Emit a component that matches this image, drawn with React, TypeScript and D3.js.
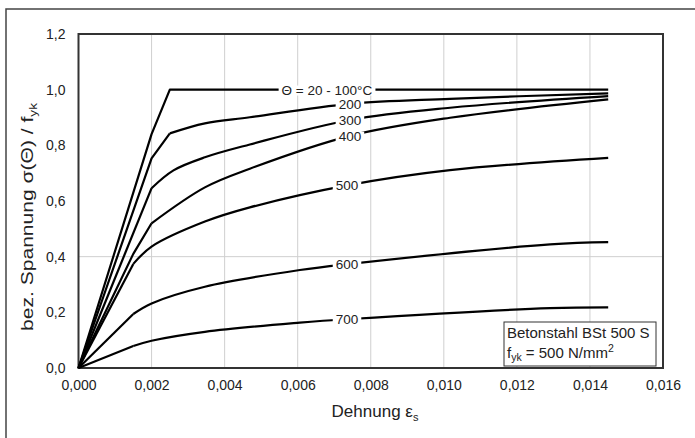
import * as d3 from "d3";
import React, { useEffect, useRef } from "react";

// Dehnung (strain) / bez. Spannung sigma(theta)/fyk
const curve100 = [[0, 0], [0.002, 0.84], [0.0025, 1.0], [0.0145, 1.0]];
const curve200 = [[0, 0], [0.002, 0.753], [0.0025, 0.843], [0.00346, 0.879], [0.00469, 0.901], [0.00743, 0.949], [0.01017, 0.967], [0.0145, 0.987]];
const curve300 = [[0, 0], [0.002, 0.646], [0.0026, 0.71], [0.00346, 0.757], [0.00469, 0.803], [0.00743, 0.891], [0.01017, 0.935], [0.0145, 0.977]];
const curve400 = [[0, 0], [0.0015, 0.41], [0.002, 0.52], [0.00346, 0.649], [0.00469, 0.716], [0.00743, 0.834], [0.01017, 0.899], [0.0145, 0.965]];
const curve500 = [[0, 0], [0.0015, 0.374], [0.002, 0.436], [0.00346, 0.526], [0.00469, 0.577], [0.00743, 0.658], [0.01017, 0.711], [0.0145, 0.755]];
const curve600 = [[0, 0], [0.0015, 0.194], [0.002, 0.232], [0.00346, 0.292], [0.00606, 0.352], [0.00743, 0.374], [0.01291, 0.444], [0.0145, 0.452]];
const curve700 = [[0, 0], [0.0015, 0.079], [0.002, 0.098], [0.00346, 0.13], [0.00606, 0.163], [0.00743, 0.176], [0.01291, 0.215], [0.0145, 0.218]];

const curves = [curve100, curve200, curve300, curve400, curve500, curve600, curve700];
const curveLabels = ["\u0398 = 20 - 100\u00B0C", "200", "300", "400", "500", "600", "700"];
// strain from which the curve is drawn smooth (before: straight segments)
const smoothFrom = [1, 0.0025, 0.002, 0.002, 0.0015, 0.0015, 0.0015];
const labelStrain = [0.0068, 0.00743, 0.00743, 0.00743, 0.00735, 0.00735, 0.00735];

const strainTicks = [0, 0.002, 0.004, 0.006, 0.008, 0.01, 0.012, 0.014, 0.016];
const stressTicks = [0, 0.2, 0.4, 0.6, 0.8, 1.0, 1.2];
const hGrid = [0.4];

const W = 695;
const H = 438;
const margin = { top: 34, right: 32, bottom: 70, left: 78.5 };
const FONT = "'Liberation Sans', Arial, Helvetica, sans-serif";

const App = () => {
    const svgRef = useRef(null);

    useEffect(() => {
        const svg = d3.select(svgRef.current);
        svg.selectAll("*").remove();

        const x = d3.scaleLinear().domain([0, 0.016]).range([margin.left, W - margin.right]);
        const y = d3.scaleLinear().domain([0, 1.2]).range([H - margin.bottom, margin.top]);
        const de = d3.formatLocale({ decimal: ",", thousands: ".", grouping: [3], currency: ["", ""] });

        // outer frame
        svg.append("rect")
            .attr("x", 6).attr("y", 9).attr("width", W).attr("height", H)
            .attr("fill", "white").attr("stroke", "#444").attr("stroke-width", 1.5);

        // grid
        svg.append("g").selectAll("line").data(strainTicks).join("line")
            .attr("x1", d => x(d)).attr("x2", d => x(d))
            .attr("y1", y(0)).attr("y2", y(1.2))
            .attr("stroke", "#cfcfcf").attr("stroke-width", 1);
        svg.append("g").selectAll("line").data(hGrid).join("line")
            .attr("x1", x(0)).attr("x2", x(0.016))
            .attr("y1", d => y(d)).attr("y2", d => y(d))
            .attr("stroke", "#cfcfcf").attr("stroke-width", 1);

        // axes
        const xAxis = svg.append("g")
            .attr("transform", `translate(0,${y(0)})`)
            .call(d3.axisBottom(x).tickValues(strainTicks).tickSize(0).tickPadding(12).tickFormat(de.format(".3f")));
        xAxis.select(".domain").remove();
        xAxis.selectAll("text").attr("font-size", 14).attr("font-family", FONT).attr("fill", "#222");

        const yAxis = svg.append("g")
            .attr("transform", `translate(${x(0)},0)`)
            .call(d3.axisLeft(y).tickValues(stressTicks).tickSize(0).tickPadding(13).tickFormat(de.format(".1f")));
        yAxis.select(".domain").remove();
        yAxis.selectAll("text").attr("font-size", 14).attr("font-family", FONT).attr("fill", "#222");

        // plot frame
        svg.append("rect")
            .attr("x", x(0)).attr("y", y(1.2))
            .attr("width", x(0.016) - x(0)).attr("height", y(0) - y(1.2))
            .attr("fill", "none").attr("stroke", "#333").attr("stroke-width", 2);

        // curves: straight elastic part, smooth after the bend
        const straight = d3.line().x(d => x(d[0])).y(d => y(d[1]));
        const smooth = d3.line().x(d => x(d[0])).y(d => y(d[1])).curve(d3.curveCatmullRom.alpha(0.5));
        const g = svg.append("g");
        curves.forEach((c, i) => {
            const a = c.filter(d => d[0] <= smoothFrom[i]);
            const b = c.filter(d => d[0] >= smoothFrom[i]);
            g.append("path").attr("d", straight(a))
                .attr("fill", "none").attr("stroke", "#000").attr("stroke-width", 2.2)
                .attr("stroke-linejoin", "round");
            if (b.length > 1) {
                g.append("path").attr("d", smooth(b))
                    .attr("fill", "none").attr("stroke", "#000").attr("stroke-width", 2.2)
                    .attr("stroke-linejoin", "round");
            }
        });

        // curve labels on a white patch cutting the line
        const interp = (c, s) => {
            for (let k = 1; k < c.length; k++) {
                if (s <= c[k][0]) {
                    const t = (s - c[k - 1][0]) / (c[k][0] - c[k - 1][0]);
                    return c[k - 1][1] + t * (c[k][1] - c[k - 1][1]);
                }
            }
            return c[c.length - 1][1];
        };
        curves.forEach((c, i) => {
            const patch = g.append("rect").attr("fill", "white");
            const t = g.append("text")
                .attr("x", x(labelStrain[i])).attr("y", y(interp(c, labelStrain[i])))
                .attr("dy", "0.36em")
                .attr("text-anchor", "middle")
                .attr("font-size", 13.5).attr("font-family", FONT).attr("fill", "#222")
                .text(curveLabels[i]);
            const bb = t.node().getBBox();
            patch.attr("x", bb.x - 3).attr("y", bb.y + 3)
                .attr("width", bb.width + 6).attr("height", bb.height - 5);
        });

        // legend box
        svg.append("rect")
            .attr("x", 504).attr("y", 322).attr("width", 152).attr("height", 44)
            .attr("fill", "white").attr("stroke", "#333").attr("stroke-width", 1);
        svg.append("text")
            .attr("x", 507).attr("y", 338)
            .attr("font-size", 15).attr("font-family", FONT).attr("fill", "#222")
            .text("Betonstahl BSt 500 S");
        const l2 = svg.append("text")
            .attr("x", 507).attr("y", 358)
            .attr("font-size", 15).attr("font-family", FONT).attr("fill", "#222");
        l2.append("tspan").text("f");
        l2.append("tspan").attr("dy", 3).attr("font-size", 10.5).text("yk");
        l2.append("tspan").attr("dy", -3).text(" = 500 N/mm");
        l2.append("tspan").attr("dy", -6).attr("font-size", 10.5).text("2");

        // axis titles
        const xt = svg.append("text")
            .attr("x", 375).attr("y", 417)
            .attr("text-anchor", "middle")
            .attr("font-size", 17).attr("font-family", FONT).attr("fill", "#222");
        xt.append("tspan").text("Dehnung \u03B5");
        xt.append("tspan").attr("dy", 4).attr("font-size", 11).text("s");

        const yt = svg.append("text")
            .attr("transform", "translate(33,217) rotate(-90)")
            .attr("text-anchor", "middle")
            .attr("textLength", 228).attr("lengthAdjust", "spacingAndGlyphs")
            .attr("font-size", 17).attr("font-family", FONT).attr("fill", "#222");
        yt.append("tspan").text("bez. Spannung \u03C3(\u0398) / f");
        yt.append("tspan").attr("dy", 4).attr("font-size", 11).text("yk");
    }, []);

    return (
        <svg ref={svgRef} width={W} height={H}
             style={{ position: "absolute", left: 0, top: 0, background: "white" }} />
    );
};

export default App;
